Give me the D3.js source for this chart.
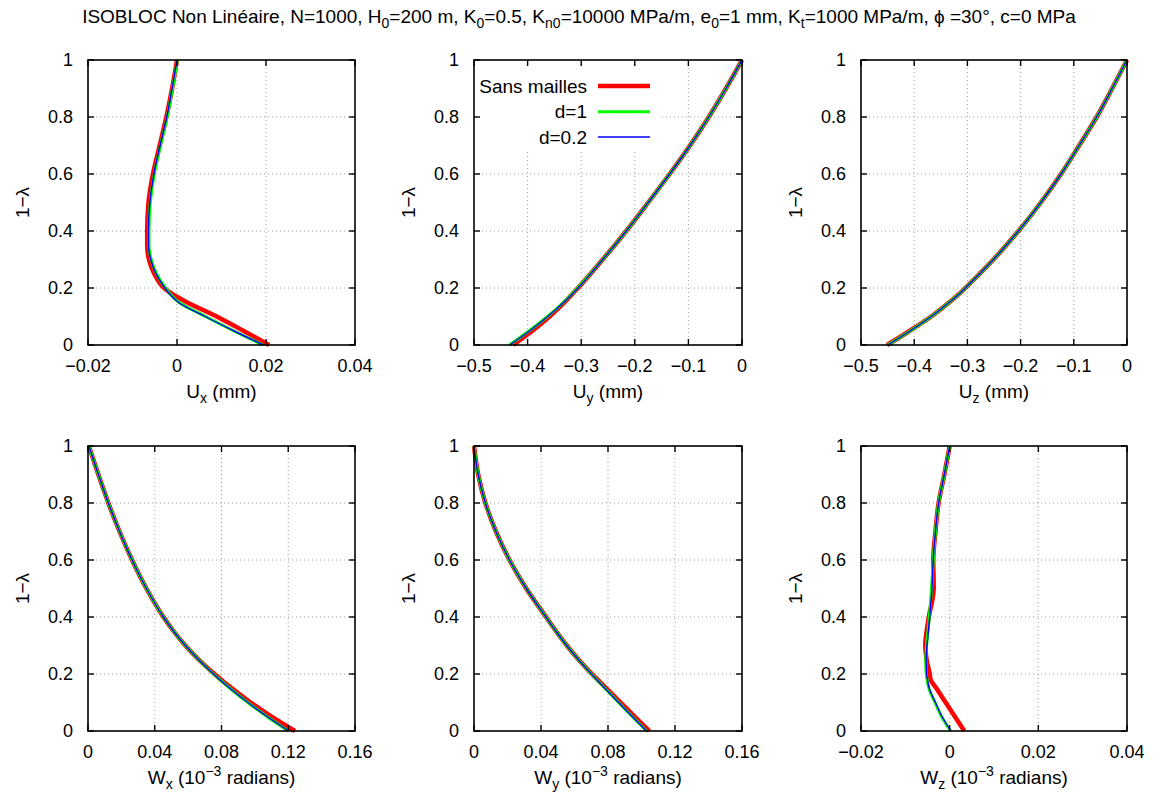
<!DOCTYPE html>
<html><head><meta charset="utf-8">
<script src="https://cdn.jsdelivr.net/npm/d3@7"></script>
<style>body{margin:0;background:#fff} svg text{font-family:"Liberation Sans",Arial,Helvetica,sans-serif;fill:#000}</style>
</head><body><svg id="c" width="1157" height="796"></svg>
<script>
// ---------- data ----------
const lambdaLevels = [0, 0.05, 0.1, 0.15, 0.18, 0.2, 0.25, 0.3, 0.35, 0.4, 0.5, 0.6, 0.7, 0.8, 0.9, 1];
const seriesNames = ["Sans mailles", "d=1", "d=0.2"];

const uxSans = [0.0207, 0.0149, 0.0089, 0.0022, -0.0012, -0.0029, -0.0051, -0.0063, -0.0067, -0.0067, -0.0064, -0.0054, -0.0039, -0.0024, -0.0011, 0.0];
const uxD1   = [0.0193, 0.0127, 0.0064, 0.0004, -0.0016, -0.0026, -0.0046, -0.0058, -0.0063, -0.0063, -0.0060, -0.0051, -0.0037, -0.0022, -0.0010, 0.0001];
const uxD02  = [0.0194, 0.0127, 0.0063, 0.0003, -0.0017, -0.0027, -0.0047, -0.0059, -0.0064, -0.0064, -0.0061, -0.0052, -0.0038, -0.0023, -0.0011, 0.0];

const uySans = [-0.427, -0.391, -0.359, -0.331, -0.316, -0.306, -0.2825, -0.260, -0.2375, -0.216, -0.175, -0.135, -0.097, -0.062, -0.030, 0.0];
const uyD1   = [-0.434, -0.397, -0.363, -0.333, -0.317, -0.307, -0.283, -0.260, -0.2375, -0.216, -0.175, -0.135, -0.097, -0.062, -0.030, 0.0];
const uyD02  = [-0.4335, -0.396, -0.3625, -0.3325, -0.3162, -0.306, -0.2825, -0.2598, -0.2375, -0.216, -0.175, -0.135, -0.097, -0.062, -0.030, 0.0];

const uzSans = [-0.451, -0.408, -0.368, -0.334, -0.315, -0.304, -0.277, -0.251, -0.227, -0.204, -0.162, -0.124, -0.090, -0.057, -0.028, 0.0];
const uzD1   = [-0.450, -0.407, -0.368, -0.334, -0.315, -0.304, -0.277, -0.251, -0.227, -0.204, -0.162, -0.124, -0.090, -0.057, -0.028, 0.0];
const uzD02  = [-0.450, -0.407, -0.368, -0.334, -0.315, -0.304, -0.277, -0.251, -0.227, -0.204, -0.162, -0.124, -0.090, -0.057, -0.028, 0.0];

const wxSans = [0.1240, 0.1100, 0.0975, 0.0862, 0.0798, 0.0758, 0.0664, 0.0583, 0.0513, 0.0452, 0.0350, 0.0264, 0.0189, 0.0122, 0.0062, 0.0005];
const wxD1   = [0.1200, 0.1074, 0.0957, 0.0850, 0.0790, 0.0752, 0.0663, 0.0583, 0.0513, 0.0452, 0.0350, 0.0264, 0.0189, 0.0122, 0.0062, 0.0005];
const wxD02  = [0.1202, 0.1075, 0.0958, 0.0850, 0.0790, 0.0752, 0.0663, 0.0583, 0.0513, 0.0452, 0.0350, 0.0264, 0.0189, 0.0122, 0.0062, 0.0005];

const wySans = [0.1047, 0.0960, 0.0875, 0.0790, 0.0738, 0.0704, 0.0625, 0.0554, 0.0490, 0.0430, 0.0312, 0.0212, 0.0131, 0.0068, 0.0025, 0.0];
const wyD1   = [0.1030, 0.0946, 0.0863, 0.0782, 0.0733, 0.0701, 0.0624, 0.0553, 0.0489, 0.0429, 0.0312, 0.0212, 0.0131, 0.0068, 0.0025, 0.0];
const wyD02  = [0.1030, 0.0946, 0.0863, 0.0782, 0.0733, 0.0701, 0.0624, 0.0553, 0.0489, 0.0429, 0.0312, 0.0212, 0.0131, 0.0068, 0.0025, 0.0];

const wzSans = [0.0033, 0.0012, -0.0009, -0.0030, -0.0043, -0.0045, -0.0052, -0.0055, -0.0052, -0.0047, -0.0036, -0.0037, -0.0032, -0.0025, -0.0012, 0.0];
const wzD1   = [0.0002, -0.0018, -0.0033, -0.0047, -0.0051, -0.0053, -0.0054, -0.0052, -0.0049, -0.0046, -0.0041, -0.0037, -0.0032, -0.0025, -0.0012, 0.0];
const wzD02  = [0.0003, -0.0017, -0.0032, -0.0046, -0.0050, -0.0052, -0.0053, -0.0051, -0.0048, -0.0045, -0.0040, -0.0037, -0.0032, -0.0025, -0.0012, 0.0];

const yTicks = [0, 0.2, 0.4, 0.6, 0.8, 1];
const xTicksUx = [-0.02, 0, 0.02, 0.04];
const xTicksU = [-0.5, -0.4, -0.3, -0.2, -0.1, 0];
const xTicksW = [0, 0.04, 0.08, 0.12, 0.16];
const xTicksWz = [-0.02, 0, 0.02, 0.04];

// ---------- layout ----------
const W = 1157, H = 796;
const colL = [88, 474, 861], colR = [355, 742, 1127];
const rowT = [60, 446], rowB = [345, 731];
const colors = ["#ff0000", "#00ff00", "#0000ff"];
const widths = [4.5, 3, 1.4];

const panels = [
  {r:0, c:0, ticks:xTicksUx, series:[uxSans, uxD1, uxD02], lab:["U","x"," (mm)"], w:false},
  {r:0, c:1, ticks:xTicksU, series:[uySans, uyD1, uyD02], lab:["U","y"," (mm)"], w:false, legend:true},
  {r:0, c:2, ticks:xTicksU, series:[uzSans, uzD1, uzD02], lab:["U","z"," (mm)"], w:false},
  {r:1, c:0, ticks:xTicksW, series:[wxSans, wxD1, wxD02], lab:["W","x"], w:true},
  {r:1, c:1, ticks:xTicksW, series:[wySans, wyD1, wyD02], lab:["W","y"], w:true},
  {r:1, c:2, ticks:xTicksWz, series:[wzSans, wzD1, wzD02], lab:["W","z"], w:true},
];

const svg = d3.select("#c");
svg.append("rect").attr("width", W).attr("height", H).attr("fill", "#fff");

const fmt = v => (v < 0 ? "\u2212" : "") + String(+Math.abs(v).toFixed(2));

// title
const title = svg.append("text").attr("x", 579).attr("y", 23).attr("text-anchor", "middle").attr("font-size", 19);
const tparts = [["ISOBLOC Non Linéaire, N=1000, H"],["0",1],["=200 m, K"],["0",1],["=0.5, K"],["n0",1],["=10000 MPa/m, e"],["0",1],["=1 mm, K"],["t",1],["=1000 MPa/m, \u03d5 =30\u00b0, c=0 MPa"]];
tparts.forEach((p, i) => {
  const t = title.append("tspan").text(p[0]);
  if (p[1]) t.attr("font-size", 14).attr("dy", 5);
  else if (i > 0) t.attr("dy", -5);
});

panels.forEach(p => {
  const x0 = colL[p.c], x1 = colR[p.c], y0 = rowT[p.r], y1 = rowB[p.r];
  const xs = d3.scaleLinear().domain([p.ticks[0], p.ticks[p.ticks.length - 1]]).range([x0, x1]);
  const ys = d3.scaleLinear().domain([0, 1]).range([y1, y0]);
  const g = svg.append("g");

  // grid
  const grid = g.append("g").attr("stroke", "#a0a0a0").attr("stroke-width", 1).attr("stroke-dasharray", "1,3");
  p.ticks.slice(1, -1).forEach(t => grid.append("line").attr("x1", xs(t)).attr("x2", xs(t)).attr("y1", y0).attr("y2", y1));
  yTicks.slice(1, -1).forEach(t => grid.append("line").attr("x1", x0).attr("x2", x1).attr("y1", ys(t)).attr("y2", ys(t)));

  // legend box
  if (p.legend) {
    g.append("rect").attr("x", x0 + 2).attr("y", y0 + 2).attr("width", 186).attr("height", 88).attr("fill", "#fff");
  }

  // curves
  const line = d3.line().x(d => xs(d[0])).y(d => ys(d[1])).curve(d3.curveMonotoneY);
  p.series.forEach((vals, i) => {
    const pts = vals.map((v, k) => [v, lambdaLevels[k]]);
    g.append("path").attr("d", line(pts)).attr("fill", "none").attr("stroke", colors[i])
      .attr("stroke-width", widths[i]).attr("stroke-linejoin", "round");
  });

  // border
  g.append("rect").attr("x", x0).attr("y", y0).attr("width", x1 - x0).attr("height", y1 - y0)
    .attr("fill", "none").attr("stroke", "#000").attr("stroke-width", 1.6);

  // ticks (inward, mirrored)
  const tk = g.append("g").attr("stroke", "#000").attr("stroke-width", 1.4);
  p.ticks.forEach(t => {
    tk.append("line").attr("x1", xs(t)).attr("x2", xs(t)).attr("y1", y1).attr("y2", y1 - 6);
    tk.append("line").attr("x1", xs(t)).attr("x2", xs(t)).attr("y1", y0).attr("y2", y0 + 6);
  });
  yTicks.forEach(t => {
    tk.append("line").attr("x1", x0).attr("x2", x0 + 6).attr("y1", ys(t)).attr("y2", ys(t));
    tk.append("line").attr("x1", x1).attr("x2", x1 - 6).attr("y1", ys(t)).attr("y2", ys(t));
  });

  // tick labels
  p.ticks.forEach(t => g.append("text").attr("x", xs(t)).attr("y", y1 + 27).attr("text-anchor", "middle")
    .attr("font-size", 18).text(fmt(t)));
  yTicks.forEach(t => g.append("text").attr("x", x0 - 15).attr("y", ys(t)).attr("dy", "0.35em")
    .attr("text-anchor", "end").attr("font-size", 18).text(fmt(t)));

  // y label
  g.append("text").attr("transform", `translate(${x0 - 59},${(y0 + y1) / 2}) rotate(-90)`)
    .attr("text-anchor", "middle").attr("font-size", 19).text("1\u2212\u03bb");

  // x label
  const xl = g.append("text").attr("x", (x0 + x1) / 2).attr("y", y1 + 53)
    .attr("text-anchor", "middle").attr("font-size", 19);
  xl.append("tspan").text(p.lab[0]);
  xl.append("tspan").attr("font-size", 14).attr("dy", 5).text(p.lab[1]);
  if (!p.w) {
    xl.append("tspan").attr("dy", -5).text(p.lab[2]);
  } else {
    xl.append("tspan").attr("dy", -5).text(" (10");
    xl.append("tspan").attr("font-size", 14).attr("dy", -8).text("\u22123");
    xl.append("tspan").attr("dy", 8).text(" radians)");
  }

  // legend
  if (p.legend) {
    const ly = [86, 111.7, 137];
    seriesNames.forEach((n, i) => {
      g.append("text").attr("x", 587).attr("y", ly[i]).attr("dy", "0.35em").attr("text-anchor", "end")
        .attr("font-size", 19).text(n);
      g.append("line").attr("x1", 598).attr("x2", 650).attr("y1", ly[i]).attr("y2", ly[i])
        .attr("stroke", colors[i]).attr("stroke-width", widths[i]);
    });
  }
});
</script></body></html>
